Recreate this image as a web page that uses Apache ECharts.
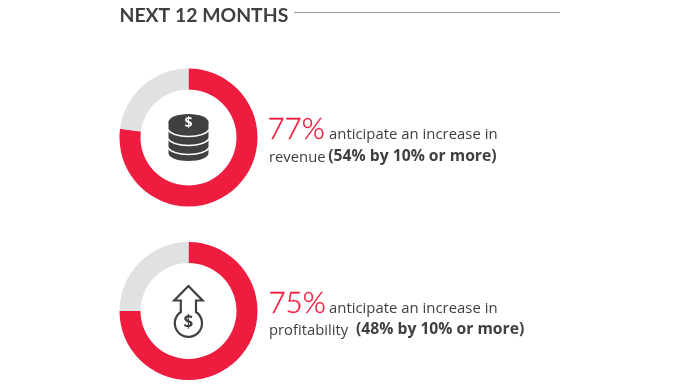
<!DOCTYPE html>
<html><head><meta charset="utf-8">
<style>html,body{margin:0;padding:0;background:#fff}#c{width:679px;height:385px}</style>
<script src="https://cdn.jsdelivr.net/npm/echarts@6/dist/echarts.min.js"></script>
</head><body><div id="c"></div>
<script>
const heading = 'NEXT 12 MONTHS';
const revenueValues = [77, 23];
const profitValues = [75, 25];
const labelsPct = ['77%', '75%'];
const textLine1 = ['anticipate an increase in', 'anticipate an increase in'];
const textLine2 = ['revenue ', 'profitability '];
const textBold = ['(54% by 10% or more)', '(48% by 10% or more)'];
const RED = '#ee1c3e', GREY = '#e0e1e3', DARK = '#404041';
const chart = echarts.init(document.getElementById('c'), null, {renderer:'canvas'});
function donut(vals, cy){
  return {type:'pie', radius:[48,69], center:[188.5,cy], startAngle:90, clockwise:true,
    silent:true, label:{show:false}, labelLine:{show:false}, itemStyle:{borderWidth:0}, emphasis:{disabled:true},
    data:[{value:vals[0], itemStyle:{color:RED}},{value:vals[1], itemStyle:{color:GREY}}], animation:false};
}
const SANS = '"Open Sans", sans-serif';
const LATO = 'Lato, sans-serif';
function txt(x,y,t,size,color,weight,family,extra){
  return {type:'text', x, y, silent:true, style:Object.assign({text:t, fill:color, font:(weight||400)+' '+size+'px '+(family||SANS), align:'left', verticalAlign:'bottom'}, extra||{})};
}
let shapeId = 0;
function pathEl(d, style){
  const name = 'iconShape'+(shapeId++);
  echarts.graphic.registerShape(name, echarts.graphic.extendPath(d, {}));
  return {type:name, silent:true, style};
}
const coinBody = pathEl('M168.5 122 L168.5 153 C168.5 157.5 177 161 188.5 161 C200 161 208.5 157.5 208.5 153 L208.5 122 Z', {fill:DARK});
const coinTop = {type:'ellipse', silent:true, shape:{cx:188.5,cy:122,rx:20,ry:8}, style:{fill:DARK}};
const coinArcs = [130.5,139.5,148.5].map(y=>pathEl(
  `M167 ${y-1.5} C171 ${y+4} 179 ${y+6} 188.5 ${y+6} C198 ${y+6} 206 ${y+4} 210 ${y-1.5}`,
  {fill:'none', stroke:'#fff', lineWidth:1.6}));
const coinDollar = {type:'text', silent:true, x:188.5, y:123.5, style:{text:'$', fill:'#fff', font:'700 14px '+SANS, align:'center', verticalAlign:'middle'}};
const arrow = pathEl(
 'M188.4 286 L202.6 300.5 L196 300.5 L196 312 A13.6 13.6 0 1 1 180.8 312 L180.8 300.5 L174.2 300.5 Z',
 {fill:'none', stroke:DARK, lineWidth:2.2});
const arrowDollar = {type:'text', silent:true, x:188.4, y:323.5, style:{text:'$', fill:DARK, font:'700 17px '+SANS, align:'center', verticalAlign:'middle'}};
const thin = {stroke:RED, lineWidth:0.35};
const option = {
  animation:false,
  backgroundColor:'#fff',
  series:[donut(revenueValues,137.5), donut(profitValues,311)],
  graphic:{elements:[
    txt(119.5,25,heading,19.4,DARK,700,LATO),
    {type:'line', silent:true, shape:{x1:294,y1:12.5,x2:560,y2:12.5}, style:{stroke:'#999999', lineWidth:1}},
    txt(267.5,144,labelsPct[0],29.5,RED,300,LATO,thin),
    txt(329,142,textLine1[0],14.9,DARK,400),
    txt(269,165,textLine2[0],14.8,DARK,400),
    txt(328.3,165,textBold[0],15.7,DARK,700),
    txt(268.5,318,labelsPct[1],29.5,RED,300,LATO,thin),
    txt(329,316,textLine1[1],14.9,DARK,400),
    txt(269,338,textLine2[1],14.8,DARK,400),
    txt(356,338,textBold[1],15.7,DARK,700),
    coinBody, coinTop, ...coinArcs, coinDollar, arrow, arrowDollar
  ]}
};
chart.setOption(option);
</script></body></html>
